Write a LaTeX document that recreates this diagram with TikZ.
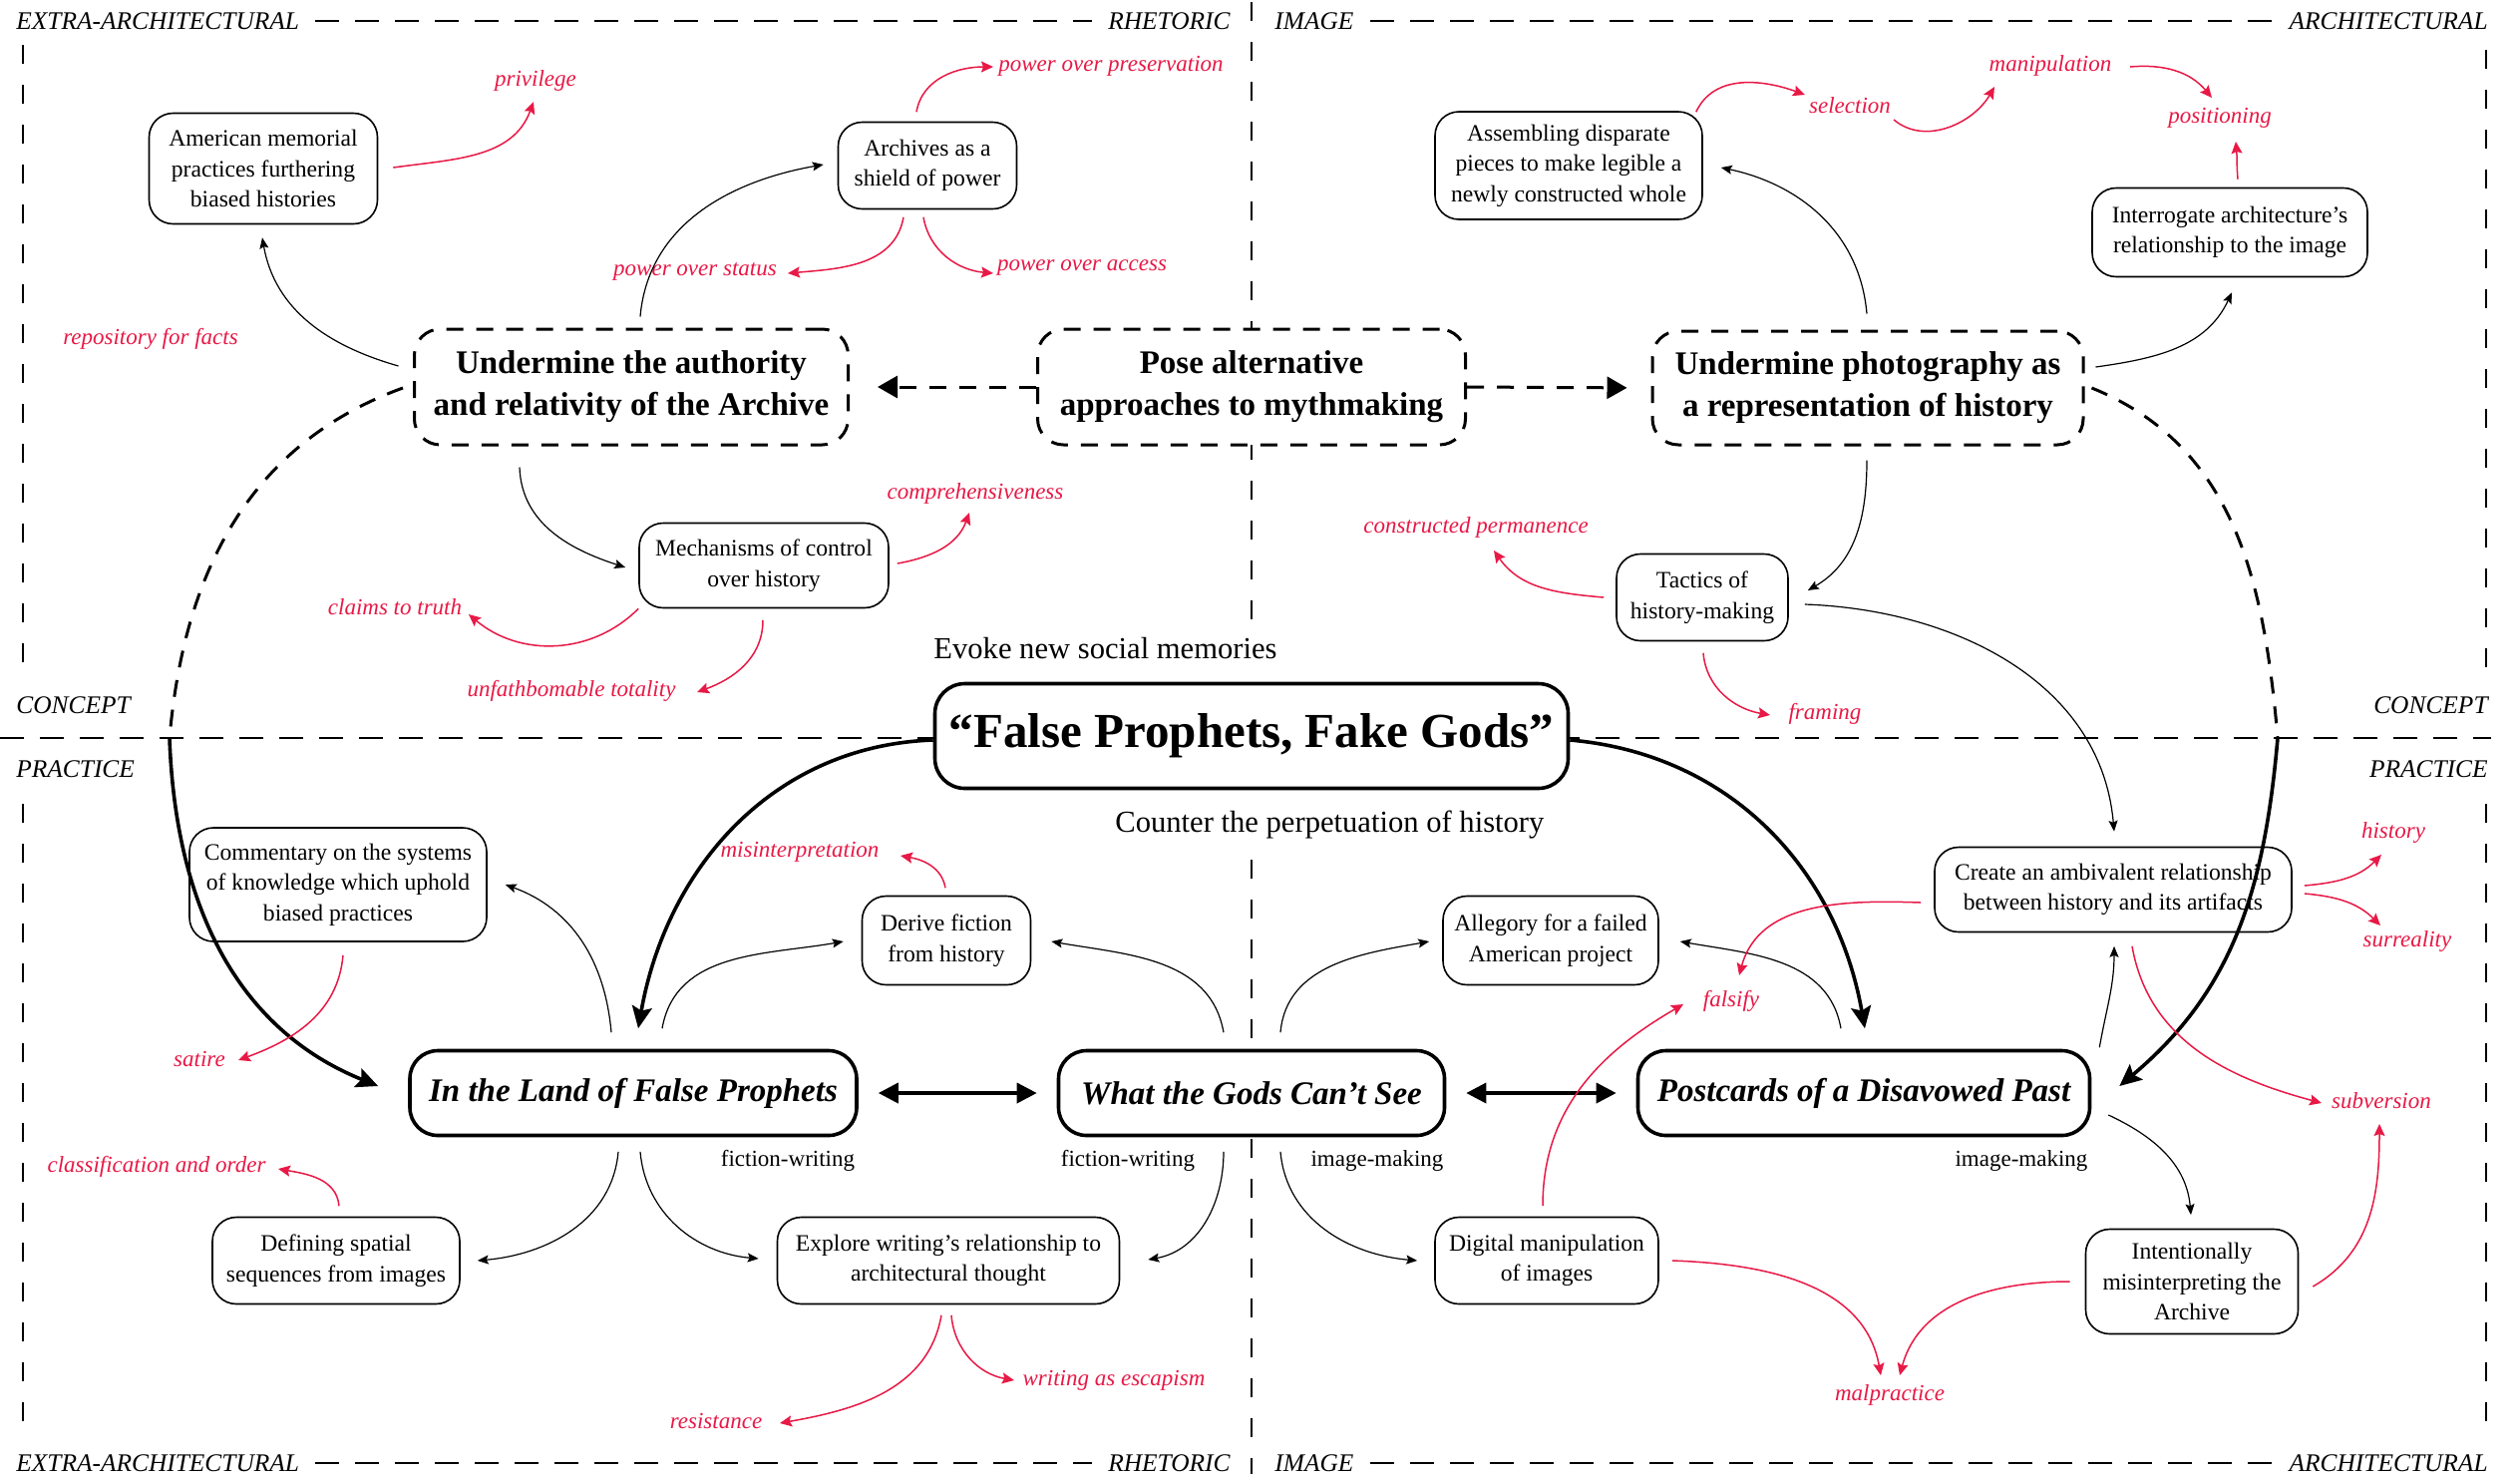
\documentclass[tikz,border=0pt]{standalone}
\usepackage{fontspec}
\setmainfont{Liberation Serif}
\usetikzlibrary{arrows.meta,calc}
\definecolor{accent}{RGB}{232,25,70}
\begin{document}
\begin{tikzpicture}[x=0.5pt,y=-0.5pt,
 hdash/.style={line width=1pt, dash pattern=on 12pt off 8pt},
 vdash/.style={line width=0.8pt, dash pattern=on 9.5pt off 10.5pt},
 cornerlbl/.style={font=\fontsize{12.7}{14}\selectfont\itshape, inner sep=0pt},
 subbox/.style={draw, line width=0.8pt, rounded corners=12pt, fill=white, align=center, inner sep=0pt, font=\fontsize{11.8}{15.3}\selectfont},
 goalbox/.style={draw, line width=1.5pt, dash pattern=on 8.5pt off 6.5pt, rounded corners=13pt, fill=white, align=center, inner sep=0pt, font=\fontsize{16.5}{21}\selectfont\bfseries},
 workbox/.style={draw, line width=1.8pt, rounded corners=14pt, fill=white, align=center, inner sep=0pt, font=\fontsize{16.5}{20}\selectfont\bfseries\itshape},
 titlebox/.style={draw, line width=1.8pt, rounded corners=15pt, fill=white, align=center, inner sep=0pt, font=\fontsize{24.5}{28}\selectfont\bfseries},
 bigtext/.style={inner sep=0pt, font=\fontsize{15.3}{18}\selectfont},
 medtext/.style={inner sep=0pt, font=\fontsize{11.5}{13}\selectfont},
 redlbl/.style={inner sep=0pt, text=accent, font=\fontsize{11.5}{13}\selectfont\itshape},
 conn/.style={line width=0.6pt, -{Stealth[length=5.5pt,width=4.5pt,inset=1pt]}},
 rconn/.style={color=accent, line width=0.75pt, -{Stealth[length=6pt,width=5.5pt,inset=1pt]}},
 heavyarrow/.style={line width=1.8pt, -{Stealth[length=11pt,width=10pt,inset=2pt]}},
 heavydash/.style={line width=1.5pt, dash pattern=on 8.5pt off 6.5pt},
 posearrow/.style={line width=1.5pt, dash pattern=on 8.5pt off 6.5pt, -{Triangle[length=10pt,width=11pt]}},
 twoway/.style={line width=1.8pt, {Triangle[length=10pt,width=10pt]}-{Triangle[length=10pt,width=10pt]}, shorten <=10pt, shorten >=10pt}
]
\fill[white] (0,0) rectangle (2527,1480);
\useasboundingbox (0,0) rectangle (2527,1480);

% ---------- frame labels ----------
\node[cornerlbl, anchor=west] (tEA) at (16,21) {EXTRA-ARCHITECTURAL};
\node[cornerlbl, anchor=east] (tRH) at (1234,21) {RHETORIC};
\node[cornerlbl, anchor=west] (tIM) at (1278,21) {IMAGE};
\node[cornerlbl, anchor=east] (tAR) at (2495,21) {ARCHITECTURAL};
\node[cornerlbl, anchor=west] (bEA) at (16,1467) {EXTRA-ARCHITECTURAL};
\node[cornerlbl, anchor=east] (bRH) at (1234,1467) {RHETORIC};
\node[cornerlbl, anchor=west] (bIM) at (1278,1467) {IMAGE};
\node[cornerlbl, anchor=east] (bAR) at (2495,1467) {ARCHITECTURAL};
\node[cornerlbl, anchor=west] (cL) at (16,707) {CONCEPT};
\node[cornerlbl, anchor=east] (cR) at (2495,707) {CONCEPT};
\node[cornerlbl, anchor=west] (pL) at (16,771) {PRACTICE};
\node[cornerlbl, anchor=east] (pR) at (2495,771) {PRACTICE};

% ---------- frame lines ----------
\draw[hdash] ($(tEA.east)+(16,0)$) -- ($(tRH.west)+(-16,0)$);
\draw[hdash] ($(tIM.east)+(16,0)$) -- ($(tAR.west)+(-16,0)$);
\draw[hdash] ($(bEA.east)+(16,0)$) -- ($(bRH.west)+(-16,0)$);
\draw[hdash] ($(bIM.east)+(16,0)$) -- ($(bAR.west)+(-16,0)$);
\draw[hdash] (0,740) -- (2498,740);
\draw[vdash] (23,45) -- (23,684);
\draw[vdash] (23,806) -- (23,1434);
\draw[vdash] (2493,50) -- (2493,684);
\draw[vdash] (2493,806) -- (2493,1434);
\draw[vdash] (1255,2) -- (1255,625);
\draw[vdash] (1255,862) -- (1255,1478);

% ---------- main nodes ----------
\node[goalbox, minimum width=217.5pt, minimum height=58pt] (auth) at (633,388) {Undermine the authority\\and relativity of the Archive};
\node[goalbox, minimum width=214.5pt, minimum height=58pt] (pose) at (1255,388) {Pose alternative\\approaches to mythmaking};
\node[goalbox, minimum width=216pt, minimum height=57pt] (photo) at (1873,389) {Undermine photography as\\a representation of history};

\node[titlebox, minimum width=317.5pt, minimum height=52.5pt] (title) at (1255,738) {“False Prophets, Fake Gods”};
\node[bigtext, anchor=west] (evoke) at (936,650) {Evoke new social memories};
\node[bigtext, anchor=west] (counter) at (1118,827) {Counter the perpetuation of history};

\node[workbox, minimum width=224pt, minimum height=42.5pt] (land) at (635,1096) {In the Land of False Prophets};
\node[workbox, minimum width=193.5pt, minimum height=42.5pt] (gods) at (1255,1096) {What the Gods Can’t See};
\node[workbox, minimum width=226.5pt, minimum height=42.5pt] (post) at (1869,1096) {Postcards of a Disavowed Past};

\node[medtext] (fw1) at (790,1164) {fiction-writing};
\node[medtext] (fw2) at (1131,1164) {fiction-writing};
\node[medtext] (im1) at (1381,1164) {image-making};
\node[medtext] (im2) at (2027,1164) {image-making};

% ---------- secondary nodes ----------
\node[subbox, minimum width=114.5pt, minimum height=55.5pt] (amer) at (264,169) {American memorial\\practices furthering\\biased histories};
\node[subbox, minimum width=89.5pt, minimum height=43.5pt] (arch) at (930,166) {Archives as a\\shield of power};
\node[subbox, minimum width=125pt, minimum height=42.5pt] (mech) at (766,567) {Mechanisms of control\\over history};
\node[subbox, minimum width=134pt, minimum height=54pt] (asm) at (1573,166) {Assembling disparate\\pieces to make legible a\\newly constructed whole};
\node[subbox, minimum width=138pt, minimum height=44.5pt] (interr) at (2236,233) {Interrogate architecture’s\\relationship to the image};
\node[subbox, minimum width=86pt, minimum height=43.5pt] (tact) at (1707,599) {Tactics of\\history-making};
\node[subbox, minimum width=149pt, minimum height=57pt] (comm) at (339,887) {Commentary on the systems\\of knowledge which uphold\\biased practices};
\node[subbox, minimum width=84.5pt, minimum height=44.5pt] (derive) at (949,943) {Derive fiction\\from history};
\node[subbox, minimum width=124pt, minimum height=43.5pt] (defin) at (337,1264) {Defining spatial\\sequences from images};
\node[subbox, minimum width=171.5pt, minimum height=43.5pt] (explore) at (951,1264) {Explore writing’s relationship to\\architectural thought};
\node[subbox, minimum width=108pt, minimum height=44.5pt] (alleg) at (1555,943) {Allegory for a failed\\American project};
\node[subbox, minimum width=179pt, minimum height=42.5pt] (create) at (2119,892) {Create an ambivalent relationship\\between history and its artifacts};
\node[subbox, minimum width=112pt, minimum height=43.5pt] (digital) at (1551,1264) {Digital manipulation\\of images};
\node[subbox, minimum width=106.5pt, minimum height=52.5pt] (intent) at (2198,1285) {Intentionally\\misinterpreting the\\Archive};

% ---------- red labels ----------
\node[redlbl] (privilege) at (537,81) {privilege};
\node[redlbl] (ppres) at (1114,66) {power over preservation};
\node[redlbl] (pstat) at (697,272) {power over status};
\node[redlbl] (pacc) at (1085,269) {power over access};
\node[redlbl] (repo) at (151,340) {repository for facts};
\node[redlbl] (comp) at (978,495) {comprehensiveness};
\node[redlbl] (claims) at (396,609) {claims to truth};
\node[redlbl] (unf) at (573,693) {unfathbomable totality};
\node[redlbl] (sel) at (1855,106) {selection};
\node[redlbl] (manip) at (2056,66) {manipulation};
\node[redlbl] (pos) at (2226,118) {positioning};
\node[redlbl] (constr) at (1480,529) {constructed permanence};
\node[redlbl] (framing) at (1830,716) {framing};
\node[redlbl] (misint) at (802,854) {misinterpretation};
\node[redlbl] (satire) at (200,1062) {satire};
\node[redlbl] (class) at (157,1170) {classification and order};
\node[redlbl] (resist) at (718,1425) {resistance};
\node[redlbl] (escap) at (1117,1384) {writing as escapism};
\node[redlbl] (hist) at (2400,835) {history};
\node[redlbl] (surr) at (2414,944) {surreality};
\node[redlbl] (falsify) at (1736,1004) {falsify};
\node[redlbl] (subv) at (2388,1104) {subversion};
\node[redlbl] (malp) at (1895,1399) {malpractice};

% ---------- heavy connectors ----------
\draw[posearrow, shorten >=14pt] (pose.west) -- (auth.east);
\draw[posearrow, shorten >=12pt] (pose.east) -- (photo.west);
\draw[twoway] (land.east) -- (gods.west);
\draw[twoway] (gods.east) -- (post.west);

\coordinate (dl) at (170,740);
\coordinate (dr) at (2284,740);
\draw[heavydash] ($(auth.west)+(-10,1)$) to[out=200,in=85] (dl);
\draw[heavyarrow] (dl) to[out=-88,in=158] ($(land.west)+(-30,-7)$);
\draw[heavydash] ($(photo.east)+(7,0)$) to[out=-22,in=95] (dr);
\draw[heavyarrow] (dr) to[out=-95,in=40] ($(post.east)+(28,-7)$);

\draw[heavyarrow] ($(title.west)+(0,4)$) to[out=182,in=80] ($(land.north)+(5,-20.5)$);
\draw[heavyarrow] ($(title.east)+(0,4)$) to[out=-5,in=100] ($(post.north)+(1,-20.5)$);

% ---------- black connectors ----------
\draw[conn] ($(auth.west)+(-14.5,-21)$) to[out=164,in=-80] ($(amer.south)+(-1,13)$);
\draw[conn] ($(auth.north)+(9,-11)$) to[out=85,in=190] ($(arch.west)+(-14,-1)$);
\draw[conn] ($(auth.south)+(-112,21)$) to[out=-88,in=162] ($(mech.west)+(-13,2)$);
\draw[conn] ($(photo.north)+(-1,-16)$) to[out=95,in=-12] ($(asm.east)+(18,2)$);
\draw[conn] ($(photo.east)+(11,-21)$) to[out=8,in=-115] ($(interr.south)+(2,15)$);
\draw[conn] ($(photo.south)+(-1,14)$) to[out=-90,in=30] ($(tact.east)+(19,-7)$);
\draw[conn] ($(tact.east)+(16,7)$) to[out=-2,in=95] ($(create.north)+(1,-15)$);

\draw[conn] ($(land.north)+(-22,-16.5)$) to[out=95,in=-20] ($(comm.east)+(18,0)$);
\draw[conn] ($(land.north)+(29,-20.5)$) to[out=80,in=190] ($(derive.west)+(-18,1)$);
\draw[conn] ($(gods.north)+(-28,-16.5)$) to[out=100,in=-10] ($(derive.east)+(20,1)$);
\draw[conn] ($(land.south)+(-15,14.5)$) to[out=-95,in=5] ($(defin.east)+(17,0)$);
\draw[conn] ($(land.south)+(7,14.5)$) to[out=-85,in=175] ($(explore.west)+(-18,-2)$);
\draw[conn] ($(gods.south)+(-28,14.5)$) to[out=-90,in=10] ($(explore.east)+(28,-1)$);
\draw[conn] ($(gods.north)+(29,-16.5)$) to[out=85,in=190] ($(alleg.west)+(-13,1)$);
\draw[conn] ($(post.north)+(-23,-20.5)$) to[out=100,in=-10] ($(alleg.east)+(21,1)$);
\draw[conn] ($(gods.south)+(29,14.5)$) to[out=-85,in=175] ($(digital.west)+(-17,0)$);
\draw[conn] ($(post.north east)+(8,-1.5)$) to[out=80,in=-90] ($(create.south)+(1,13.5)$);
\draw[conn] ($(post.east)+(17,22)$) to[out=-25,in=95] ($(intent.north)+(-1,-13.5)$);

% ---------- red connectors ----------
\draw[rconn] ($(amer.east)+(15,-1)$) to[out=8,in=-110] ($(privilege)+(-2,21)$);
\draw[rconn] ($(arch.north)+(-11,-9.5)$) to[out=80,in=180] ($(ppres)+(-118,1)$);
\draw[rconn] ($(arch.south)+(-24,7.5)$) to[out=-100,in=5] ($(pstat)+(93,2)$);
\draw[rconn] ($(arch.south)+(-4,7.5)$) to[out=-80,in=175] ($(pacc)+(-89,5)$);
\draw[rconn] ($(mech.east)+(8,-2)$) to[out=10,in=-110] ($(comp)+(-6,19)$);
\draw[rconn] (mech.south west) to[out=-135,in=-40] ($(claims)+(74,7)$);
\draw[rconn] ($(mech.south)+(-1,11.5)$) to[out=-90,in=20] ($(unf)+(126,1)$);
\draw[rconn] ($(asm.north east)+(-7,1)$) to[out=65,in=160] ($(sel)+(-45,-11)$);
\draw[rconn] ($(sel)+(44,14)$) to[out=-40,in=-120] ($(manip)+(-56,21)$);
\draw[rconn] ($(manip)+(80,1)$) to[out=5,in=130] ($(pos)+(-8,-20)$);
\draw[rconn] ($(interr.north)+(8,-8)$) to[out=95,in=-85] ($(pos)+(16,24)$);
\draw[rconn] ($(tact.west)+(-12,0)$) to[out=175,in=-55] ($(constr)+(18,23)$);
\draw[rconn] ($(tact.south)+(1,11.5)$) to[out=-85,in=170] ($(framing)+(-55,1)$);
\draw[rconn] ($(derive.north)+(-1,-7.5)$) to[out=100,in=-10] ($(misint)+(101,4)$);
\draw[rconn] ($(comm.south)+(5,13)$) to[out=-95,in=20] ($(satire)+(39,1)$);
\draw[rconn] ($(defin.north)+(3,-10.5)$) to[out=95,in=-10] ($(class)+(122,2)$);
\draw[rconn] ($(explore.south)+(-7,10.5)$) to[out=-100,in=10] ($(resist)+(64,2)$);
\draw[rconn] ($(explore.south)+(3,10.5)$) to[out=-85,in=170] ($(escap)+(-100,0)$);
\draw[rconn] ($(create.east)+(12,-4)$) to[out=5,in=-135] ($(hist)+(-12,22)$);
\draw[rconn] ($(create.east)+(12,4)$) to[out=-5,in=135] ($(surr)+(-27,-16)$);
\draw[rconn] ($(create.west)+(-13,13)$) to[out=178,in=75] ($(falsify)+(8,-26)$);
\draw[rconn] ($(create.south)+(19,13.5)$) to[out=-80,in=165] ($(subv)+(-60,2)$);
\draw[rconn] ($(digital.north)+(-4,-10.5)$) to[out=90,in=210] ($(falsify)+(-48,3)$);
\draw[rconn] ($(digital.east)+(13,0)$) to[out=-2,in=100] ($(malp)+(-9,-20)$);
\draw[rconn] ($(intent.west)+(-15,0)$) to[out=180,in=75] ($(malp)+(10,-20)$);
\draw[rconn] ($(intent.east)+(14,5)$) to[out=30,in=-90] ($(subv)+(-2,23)$);
\end{tikzpicture}
\end{document}
